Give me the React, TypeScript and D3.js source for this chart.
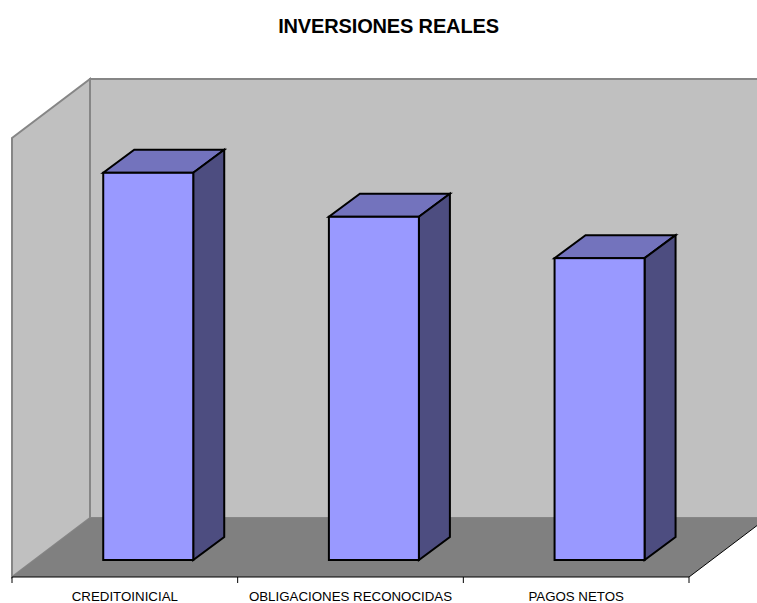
import React from "react";
import * as d3 from "d3";

const categories = ["CREDITOINICIAL", "OBLIGACIONES RECONOCIDAS", "PAGOS NETOS"];
const values = [88, 78, 68.6];
const title = "INVERSIONES REALES";

const W = 757, H = 603;
const x0 = 12, x1 = 689, yFront = 577;
const depthX = 78, depthY = 59;
const wallTopFront = 138;
const barW = 90, barDx = 31, barDy = 23;

const x = d3.scaleBand<string>().domain(categories).range([x0, x1]);
const y = d3.scaleLinear().domain([0, 100]).range([560, 120]);
const poly = (p: number[][]) => p.map((q) => q.join(",")).join(" ");

export default function App() {
  const gray = "#c0c0c0", edge = "#868686";
  return (
    <svg width={W} height={H} style={{ position: "absolute", left: 0, top: 0, display: "block", fontFamily: "'Liberation Sans', Arial, sans-serif" }}>
      <text x={388.5} y={33} textAnchor="middle" fontWeight="bold" fontSize={20} letterSpacing={-0.15} fill="#000">{title}</text>
      {/* back wall */}
      <polygon points={poly([[x0 + depthX, wallTopFront - depthY], [W + 5, wallTopFront - depthY], [W + 5, yFront - depthY], [x0 + depthX, yFront - depthY]])} fill={gray} stroke={edge} strokeWidth={2} />
      {/* side wall */}
      <polygon points={poly([[x0, wallTopFront], [x0 + depthX, wallTopFront - depthY], [x0 + depthX, yFront - depthY], [x0, yFront]])} fill={gray} stroke={edge} strokeWidth={2} />
      {/* floor */}
      <polygon points={poly([[x0, yFront], [x1, yFront], [x1 + depthX, yFront - depthY], [x0 + depthX, yFront - depthY]])} fill="#808080" />
      <line x1={x1} y1={yFront} x2={x1 + depthX} y2={yFront - depthY} stroke="#000" strokeWidth={1} />
      {/* axis */}
      <line x1={x0} y1={yFront} x2={x1} y2={yFront} stroke="#000" strokeWidth={1} />
      {[x0, ...categories.map((c) => x(c)! + x.bandwidth())].map((t, i) => (
        <line key={i} x1={t} x2={t} y1={yFront} y2={yFront + 6} stroke="#000" strokeWidth={1} />
      ))}
      {categories.map((c, i) => {
        const cx = x(c)! + x.bandwidth() / 2;
        const l = cx + 23.4 - barW / 2, r = l + barW, t = y(values[i]), b = y(0);
        return (
          <g key={c} stroke="#000" strokeWidth={2} strokeLinejoin="miter">
            <polygon points={poly([[l, t], [r, t], [r + barDx, t - barDy], [l + barDx, t - barDy]])} fill="#7373bd" />
            <polygon points={poly([[r, t], [r + barDx, t - barDy], [r + barDx, b - barDy], [r, b]])} fill="#4d4d80" />
            <rect x={l} y={t} width={barW} height={b - t} fill="#9999ff" />
          </g>
        );
      })}
      {categories.map((c) => (
        <text key={c} x={x(c)! + x.bandwidth() / 2} y={601} textAnchor="middle" fontSize={13.3} fill="#000">{c}</text>
      ))}
    </svg>
  );
}
